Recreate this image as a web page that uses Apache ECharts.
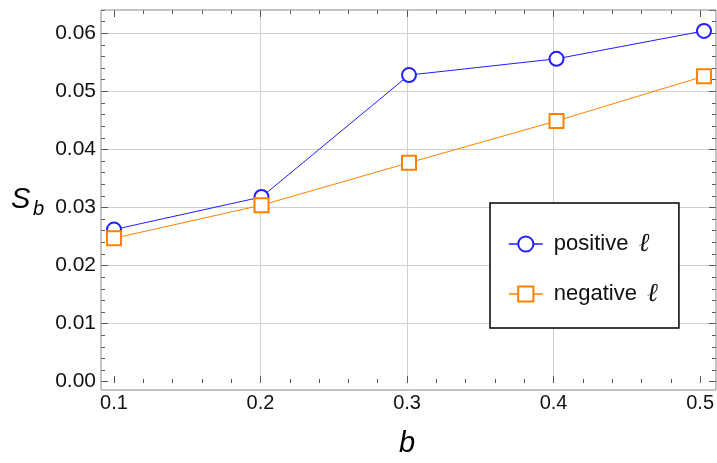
<!DOCTYPE html>
<html><head><meta charset="utf-8">
<script src="https://cdn.jsdelivr.net/npm/echarts@6/dist/echarts.min.js"></script>
<style>html,body{margin:0;padding:0;background:#fff}#c{width:717px;height:463px}</style>
</head><body><div id="c"></div>
<script>
// ---- data ----
const bValues = [0.1, 0.2, 0.3, 0.4, 0.5];
const positiveS = [0.0262, 0.0318, 0.0528, 0.0556, 0.0604];
const negativeS = [0.0247, 0.0304, 0.0377, 0.0449, 0.0526];
const seriesNames = ['positive ℓ', 'negative ℓ'];
const xRange = [0.1, 0.5];      // tick range on x
const xInterval = 0.1;
const yRange = [0, 0.064];      // plotted y range (frame top = 0.064)
const yInterval = 0.01;
const yMinorInterval = 0.002;

const FONT = '"Liberation Sans", Arial, sans-serif';
const TICK = '#555';
const GRIDC = '#cfcfcf';

const chart = echarts.init(document.getElementById('c'), null, {renderer: 'canvas'});

const hiddenX = (g) => ({type: 'value', gridIndex: g, show: false, min: 0, max: 1});
const hiddenY = (g) => ({type: 'value', gridIndex: g, show: false, min: 0, max: 1});
const minorY = (pos) => ({type: 'value', gridIndex: 4, position: pos, min: yRange[0], max: yRange[1], interval: yMinorInterval,
  axisLine: {show: false},
  axisTick: {show: true, inside: true, length: 4, lineStyle: {color: TICK, width: 1}},
  splitLine: {show: false}, axisLabel: {show: false}});

const option = {
  animation: false,
  backgroundColor: '#fff',
  grid: [
    {left: 114, right: 13, top: 10, bottom: 81.3},          // 0 series
    {left: 114, right: 13, top: 10, bottom: 73},            // 1 x decoration
    {left: 101, right: 1, top: 10, bottom: 81.3},           // 2 y decoration (major)
    {left: 101, right: 1, top: 10, bottom: 73, show: true, borderColor: '#8a8a8a', borderWidth: 1, backgroundColor: 'transparent', z: 3}, // 3 frame
    {left: 101, right: 1, top: 10, bottom: 81.3}            // 4 y decoration (minor)
  ],
  xAxis: [
    {type: 'value', gridIndex: 0, show: false, min: xRange[0], max: xRange[1]},
    {type: 'value', gridIndex: 1, position: 'bottom', min: xRange[0], max: xRange[1], interval: xInterval,
      name: 'b', nameLocation: 'middle', nameGap: 46,
      nameTextStyle: {fontSize: 29, fontStyle: 'italic', fontFamily: FONT, color: '#000'},
      axisLine: {show: false},
      axisTick: {show: true, inside: true, length: 7, lineStyle: {color: TICK, width: 1}},
      minorTick: {show: true, splitNumber: 5, length: 4, lineStyle: {color: TICK, width: 1}},
      splitLine: {show: true, showMinLine: false, showMaxLine: false, lineStyle: {color: GRIDC, width: 1}},
      axisLabel: {fontSize: 20, color: '#111', fontFamily: FONT, margin: 10, formatter: v => v.toFixed(1)}
    },
    {type: 'value', gridIndex: 1, position: 'top', min: xRange[0], max: xRange[1], interval: xInterval,
      axisLine: {show: false},
      axisTick: {show: true, inside: true, length: 7, lineStyle: {color: TICK, width: 1}},
      minorTick: {show: true, splitNumber: 5, length: 4, lineStyle: {color: TICK, width: 1}},
      splitLine: {show: false}, axisLabel: {show: false}
    },
    hiddenX(2),
    hiddenX(3),
    hiddenX(4)
  ],
  yAxis: [
    {type: 'value', gridIndex: 0, show: false, min: yRange[0], max: yRange[1]},
    hiddenY(1),
    {type: 'value', gridIndex: 2, position: 'left', min: yRange[0], max: yRange[1], interval: yInterval,
      axisLine: {show: false},
      axisTick: {show: true, inside: true, length: 7, lineStyle: {color: TICK, width: 1}},
      splitLine: {show: true, showMinLine: false, showMaxLine: false, lineStyle: {color: GRIDC, width: 1}},
      axisLabel: {fontSize: 21, color: '#111', fontFamily: FONT, margin: 5, showMaxLabel: false, formatter: v => v.toFixed(2)}
    },
    {type: 'value', gridIndex: 2, position: 'right', min: yRange[0], max: yRange[1], interval: yInterval,
      axisLine: {show: false},
      axisTick: {show: true, inside: true, length: 7, lineStyle: {color: TICK, width: 1}},
      splitLine: {show: false}, axisLabel: {show: false}
    },
    hiddenY(3),
    minorY('left'),
    minorY('right')
  ],
  legend: {
    orient: 'vertical', left: 490, top: 203,
    backgroundColor: '#fff', borderColor: '#000', borderWidth: 1.5, borderRadius: 0,
    padding: [28, 21, 21, 18], itemGap: 24, itemWidth: 34, itemHeight: 19,
    lineStyle: {width: 1.6},
    textStyle: {fontSize: 22, color: '#111', fontFamily: FONT, padding: [0, 0, 0, 6],
      rich: {l: {fontSize: 26, fontStyle: 'italic', fontFamily: '"DejaVu Serif", serif', color: '#111', padding: [0, 0, 0, 4]}}},
    formatter: n => n.replace('ℓ', '{l|ℓ}'),
    data: seriesNames
  },
  graphic: [
    {type: 'text', left: 11, top: 185, style: {text: 'S', font: 'italic 29px ' + FONT, fill: '#000'}},
    {type: 'text', left: 33, top: 199, style: {text: 'b', font: 'italic 20px ' + FONT, fill: '#000'}}
  ],
  series: [
    {type: 'line', name: seriesNames[0], xAxisIndex: 0, yAxisIndex: 0, clip: false, z: 5,
      data: bValues.map((b, i) => [b, positiveS[i]]),
      symbol: 'emptyCircle', symbolSize: 14,
      lineStyle: {color: '#1f1fff', width: 1},
      itemStyle: {color: '#1f1fff', borderWidth: 1.2}},
    {type: 'line', name: seriesNames[1], xAxisIndex: 0, yAxisIndex: 0, clip: false, z: 5,
      data: bValues.map((b, i) => [b, negativeS[i]]),
      symbol: 'emptyRect', symbolSize: 14,
      lineStyle: {color: '#ff8000', width: 1},
      itemStyle: {color: '#ff8000', borderWidth: 1.8}}
  ]
};
chart.setOption(option);
</script>
</body></html>
